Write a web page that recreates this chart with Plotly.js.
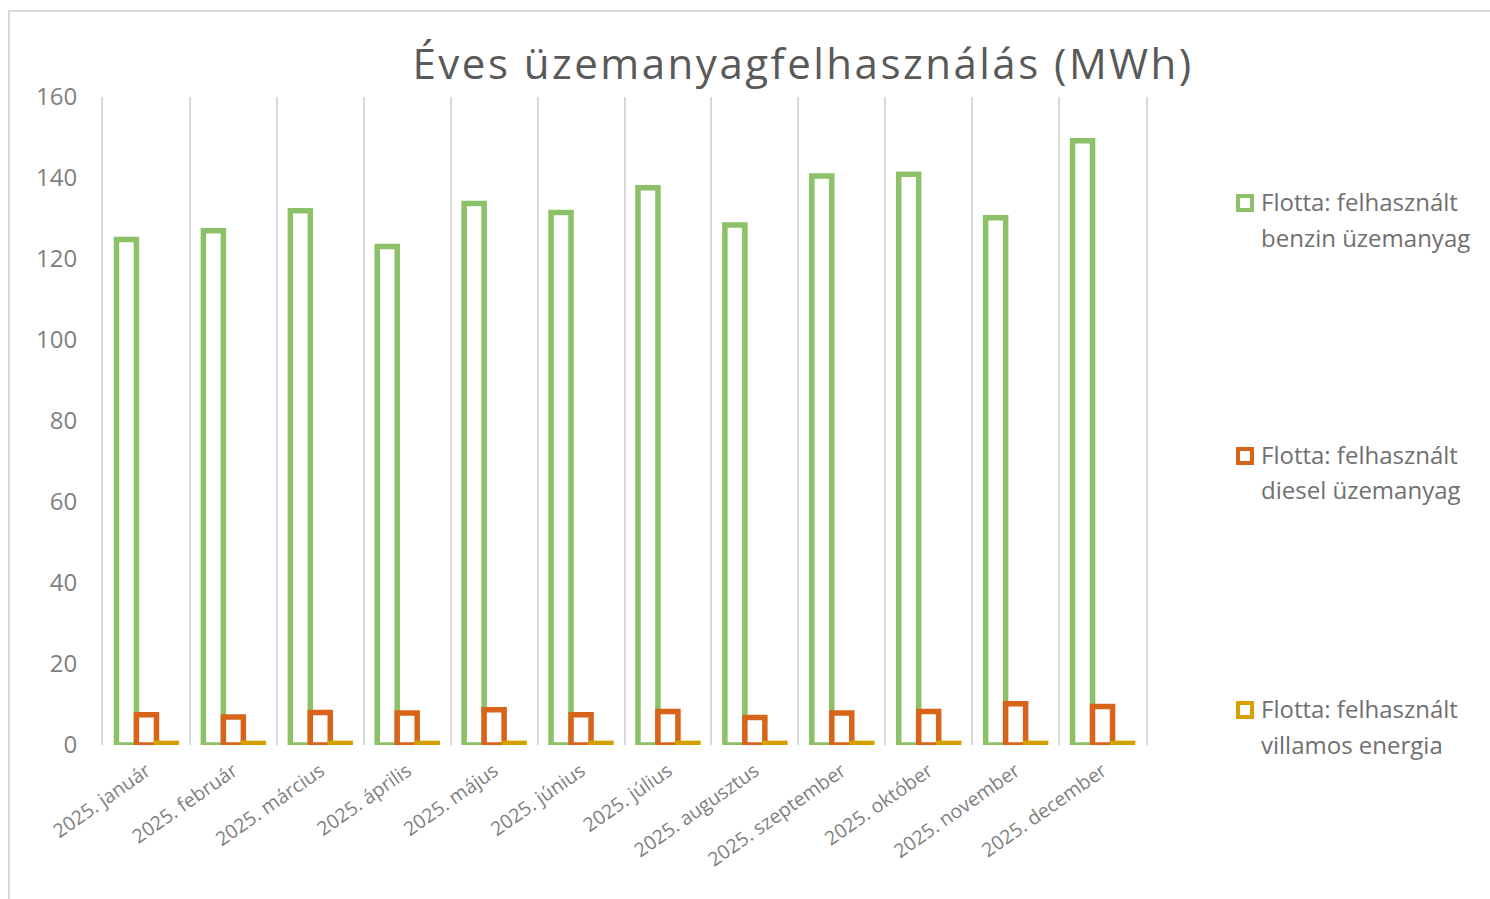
<!DOCTYPE html>
<html>
<head>
<meta charset="utf-8">
<script src="https://cdn.plot.ly/plotly-3.0.1.min.js"></script>
<style>
html,body{margin:0;padding:0;background:#fff;}
#wrap{position:relative;width:1490px;height:899px;overflow:hidden;}
#chart{position:absolute;left:0;top:0;width:1490px;height:899px;}
#frame{position:absolute;left:8px;top:10px;width:1600px;height:1000px;border-top:2px solid #d9d9d9;border-left:2px solid #d9d9d9;pointer-events:none;}
.gtitle{letter-spacing:2.5px;}
</style>
</head>
<body>
<div id="wrap"><div id="chart"></div><div id="frame"></div></div>
<script>
const months = ["2025. január","2025. február","2025. március","2025. április","2025. május","2025. június","2025. július","2025. augusztus","2025. szeptember","2025. október","2025. november","2025. december"];
const benzin = [124.8,127.0,131.9,123.1,133.7,131.5,137.6,128.4,140.5,140.9,130.2,149.2];
const diesel = [7.5,6.9,8.0,7.9,8.7,7.5,8.3,6.8,7.9,8.3,10.2,9.5];
const villamos = [0.4,0.4,0.4,0.4,0.4,0.4,0.4,0.4,0.4,0.4,0.4,0.4];
const seriesLine1 = ["Flotta: felhasznált","Flotta: felhasznált","Flotta: felhasznált"];
const seriesLine2 = ["benzin üzemanyag","diesel üzemanyag","villamos energia"];
const colors = ["#8CC168","#D76418","#D6A000"];

const font = "'Open Sans', Lato, sans-serif";
const vals = [benzin, diesel, villamos];
const traces = vals.map((v,i)=>({
  type:"bar", x:months, y:v, name:seriesLine1[i] + " " + seriesLine2[i],
  marker:{color:"#ffffff", line:{color:colors[i], width:5.5}},
  hoverinfo:"x+y", showlegend:false
}));

// custom legend (pixel-positioned relative to plot area)
const L = 103, W = 1043, B = 745, H = 648;
const px = x => (x - L) / W;
const py = y => (B - y) / H;
const legendSq = [203, 456, 710];
const legendL1 = [201, 454, 708];
const legendL2 = [238, 490, 744];
const shapes = [], annotations = [];
for (let i = 0; i < 3; i++) {
  shapes.push({type:"rect", xref:"paper", yref:"paper", xsizemode:"pixel", ysizemode:"pixel",
    xanchor:px(1245), yanchor:py(legendSq[i]), x0:-7, x1:7, y0:-7, y1:7,
    fillcolor:"#ffffff", line:{color:colors[i], width:4}});
  annotations.push({xref:"paper", yref:"paper", x:px(1259), y:py(legendL1[i]), xanchor:"left", yanchor:"middle",
    text:seriesLine1[i], showarrow:false, font:{family:font, size:24, color:"#707070"}});
  annotations.push({xref:"paper", yref:"paper", x:px(1259), y:py(legendL2[i]), xanchor:"left", yanchor:"middle",
    text:seriesLine2[i], showarrow:false, font:{family:font, size:24, color:"#707070"}});
}

const layout = {
  width:1490, height:899,
  margin:{l:103, r:344, t:97, b:154},
  paper_bgcolor:"#ffffff", plot_bgcolor:"#ffffff",
  title:{text:"Éves üzemanyagfelhasználás (MWh)", x:0.539, xanchor:"center", y:0.928, yanchor:"middle",
         font:{family:font, size:42, color:"#595959"}},
  barmode:"group", bargap:0.31, bargroupgap:0,
  xaxis:{type:"category", tickson:"boundaries", showgrid:true, gridcolor:"#d9d9d9", gridwidth:2,
         ticks:"", tickangle:-35, tickfont:{family:font, size:19.5, color:"#7f7f7f"},
         ticklabelstandoff:10, showline:false, zeroline:false, range:[-0.5,11.5]},
  yaxis:{range:[0,160], dtick:20, showgrid:false, zeroline:false, showline:true, mirror:true,
         linecolor:"#d9d9d9", linewidth:2,
         tickfont:{family:font, size:24, color:"#7f7f7f"}, ticklabelstandoff:19},
  shapes:shapes, annotations:annotations,
  showlegend:false
};
Plotly.newPlot("chart", traces, layout, {displayModeBar:false, staticPlot:true});
</script>
</body>
</html>
